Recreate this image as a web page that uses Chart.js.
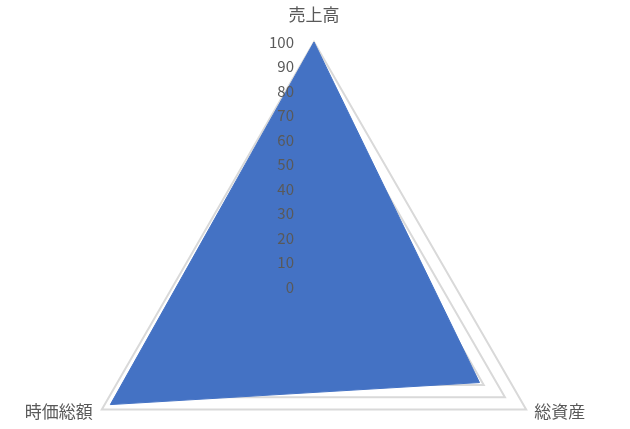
<!DOCTYPE html>
<html>
<head>
<meta charset="utf-8">
<script src="https://cdn.jsdelivr.net/npm/chart.js@4/dist/chart.umd.min.js"></script>
<style>
  html, body { margin: 0; padding: 0; background: #fff; overflow: hidden; }
  #janela { width: 630px; height: 429px; overflow: hidden; position: relative; }
  /* a área do gráfico é mais alta que a janela: o círculo do radar passa da borda de baixo */
  #wrap { width: 630px; height: 540px; position: relative; }
</style>
</head>
<body>
<div id="janela"><div id="wrap"><canvas id="grafico"></canvas></div></div>
<script>
// Dados
const categorias = ['売上高', '総資産', '時価総額'];
const valores = [100, 78, 96];
const ticksEscala = [0, 10, 20, 30, 40, 50, 60, 70, 80, 90, 100];

const corTexto = '#595959';
const fonte = '"Noto Sans CJK JP", "Noto Sans", sans-serif';

// rótulos da escala à esquerda do eixo, por cima da área azul
const rotulosEscala = {
    id: 'rotulosEscala',
    afterDatasetsDraw(chart) {
        const r = chart.scales.r;
        const ctx = chart.ctx;
        ctx.save();
        ctx.font = '15px ' + fonte;
        ctx.fillStyle = corTexto;
        ctx.textAlign = 'right';
        ctx.textBaseline = 'middle';
        ticksEscala.forEach(v => {
            const y = r.yCenter - r.getDistanceFromCenterForValue(v);
            ctx.fillText(String(v), r.xCenter - 20, y);
        });
        ctx.restore();
    }
};

// nomes das categorias nos vértices do triângulo externo
const rotulosCategorias = {
    id: 'rotulosCategorias',
    afterDraw(chart) {
        const r = chart.scales.r;
        const ctx = chart.ctx;
        ctx.save();
        ctx.font = '17px ' + fonte;
        ctx.fillStyle = corTexto;
        categorias.forEach((nome, i) => {
            const p = r.getPointPosition(i, r.drawingArea);
            if (i === 0) {
                ctx.textAlign = 'center';
                ctx.textBaseline = 'middle';
                ctx.fillText(nome, p.x, p.y - 27);
            } else if (p.x > r.xCenter) {
                ctx.textAlign = 'left';
                ctx.textBaseline = 'middle';
                ctx.fillText(nome, p.x + 8, p.y + 2);
            } else {
                ctx.textAlign = 'right';
                ctx.textBaseline = 'middle';
                ctx.fillText(nome, p.x - 9, p.y + 2);
            }
        });
        ctx.restore();
    }
};

const ctx = document.getElementById('grafico').getContext('2d');
new Chart(ctx, {
    type: 'radar',
    data: {
        labels: categorias,
        datasets: [{
            label: '系列1',
            data: valores,
            backgroundColor: '#4472C4',
            borderColor: '#4472C4',
            borderWidth: 1,
            pointRadius: 0,
            fill: true
        }]
    },
    options: {
        responsive: true,
        maintainAspectRatio: false,
        animation: false,
        layout: { padding: { top: 42, bottom: 8, left: 69, right: 71 } },
        plugins: {
            legend: { display: false },
            tooltip: { enabled: false }
        },
        scales: {
            r: {
                min: 0,
                max: 100,
                beginAtZero: true,
                ticks: { stepSize: 10, display: false },
                grid: { color: '#d9d9d9', lineWidth: 2 },
                angleLines: { display: false },
                pointLabels: { display: false }
            }
        }
    },
    plugins: [rotulosEscala, rotulosCategorias]
});
</script>
</body>
</html>
